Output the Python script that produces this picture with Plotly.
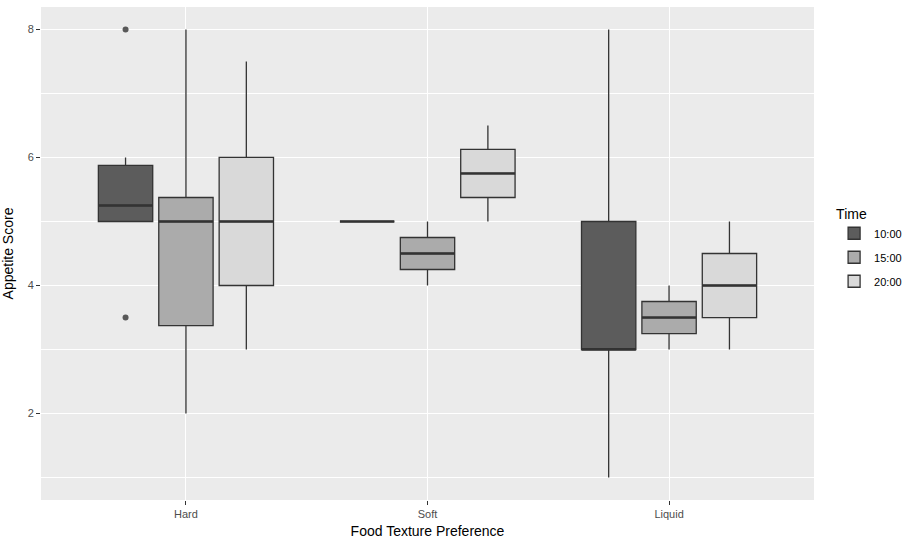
import plotly.graph_objects as go

categories = ["Hard", "Soft", "Liquid"]
times = ["10:00", "15:00", "20:00"]

# per time: values for [Hard, Soft, Liquid]
lower = {"10:00": [5.0, 5.0, 1.0], "15:00": [2.0, 4.0, 3.0], "20:00": [3.0, 5.0, 3.0]}
q1 = {"10:00": [5.0, 5.0, 3.0], "15:00": [3.375, 4.25, 3.25], "20:00": [4.0, 5.375, 3.5]}
median = {"10:00": [5.25, 5.0, 3.0], "15:00": [5.0, 4.5, 3.5], "20:00": [5.0, 5.75, 4.0]}
q3 = {"10:00": [5.875, 5.0, 5.0], "15:00": [5.375, 4.75, 3.75], "20:00": [6.0, 6.125, 4.5]}
upper = {"10:00": [6.0, 5.0, 8.0], "15:00": [8.0, 5.0, 4.0], "20:00": [7.5, 6.5, 5.0]}
outliers = {"10:00": {"Hard": [8.0, 3.5]}}

fills = {"10:00": "#5c5c5c", "15:00": "#ababab", "20:00": "#d9d9d9"}
edge = "#333333"

dodge = 0.75
n = len(times)
slot = dodge / n
box_w = slot * 0.9

fig = go.Figure()
for ti, t in enumerate(times):
    off = -dodge / 2 + slot * (ti + 0.5)
    xs = [ci + off for ci in range(len(categories))]
    fig.add_trace(go.Box(
        x=xs, q1=q1[t], median=median[t], q3=q3[t],
        lowerfence=lower[t], upperfence=upper[t],
        width=box_w, fillcolor=fills[t],
        line=dict(color=edge, width=1.3),
        whiskerwidth=0, name=t, boxpoints=False,
        legendgroup=t, hoverinfo="skip",
    ))
    # thicker median lines like ggplot
    mx, my = [], []
    for x, m in zip(xs, median[t]):
        mx += [x - box_w / 2, x + box_w / 2, None]
        my += [m, m, None]
    fig.add_trace(go.Scatter(x=mx, y=my, mode="lines",
                             line=dict(color=edge, width=2.6),
                             legendgroup=t, showlegend=False, hoverinfo="skip"))
    for cat, vals in outliers.get(t, {}).items():
        ci = categories.index(cat)
        fig.add_trace(go.Scatter(x=[ci + off] * len(vals), y=vals, mode="markers",
                                 marker=dict(color=edge, size=6, opacity=0.8),
                                 legendgroup=t, showlegend=False, hoverinfo="skip"))

fig.update_layout(
    width=905, height=539,
    margin=dict(l=41, r=91, t=7, b=39, autoexpand=False),
    paper_bgcolor="white", plot_bgcolor="#EBEBEB",
    font=dict(family="Liberation Sans, Arial, sans-serif", color="#000000"),
    showlegend=True,
    legend=dict(title=dict(text="Time", font=dict(size=14, color="#000000")),
                x=1.026, xanchor="left", y=0.51, yanchor="middle",
                font=dict(size=11, color="#000000"), bgcolor="rgba(0,0,0,0)",
                itemwidth=30, tracegroupgap=5),
)
fig.update_xaxes(
    range=[-0.6, 2.6], tickmode="array",
    tickvals=list(range(len(categories))), ticktext=categories,
    showgrid=True, gridcolor="white", gridwidth=1.1, zeroline=False,
    ticks="outside", ticklen=4, tickcolor="#333333",
    tickfont=dict(size=11, color="#4D4D4D"), automargin=False,
    title=dict(text="Food Texture Preference", font=dict(size=14)),
)
fig.update_yaxes(
    range=[0.65, 8.35], tickmode="linear", tick0=0, dtick=2,
    showgrid=True, gridcolor="white", gridwidth=1.1, zeroline=False,
    minor=dict(dtick=1, tick0=0, showgrid=True, gridcolor="white", gridwidth=0.5),
    ticks="outside", ticklen=4, tickcolor="#333333",
    tickfont=dict(size=11, color="#4D4D4D"), automargin=False,
    title=dict(text="Appetite Score", font=dict(size=14)),
)

fig.write_html("out.html", config={"displayModeBar": False},
               post_script="document.body.style.margin='0';")
